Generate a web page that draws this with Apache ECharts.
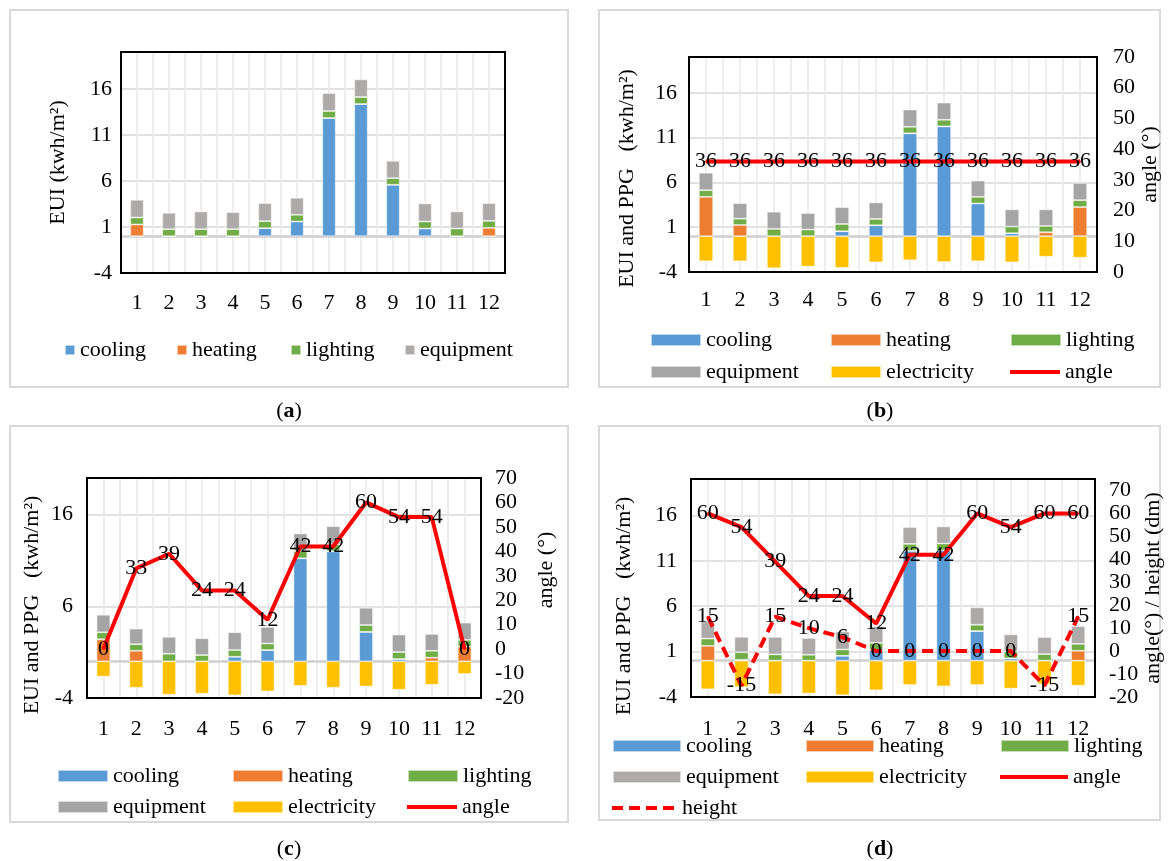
<!DOCTYPE html>
<html><head><meta charset="utf-8">
<script src="https://cdn.jsdelivr.net/npm/echarts@6/dist/echarts.min.js"></script>
<style>html,body{margin:0;padding:0;background:#fff}#c{width:1170px;height:861px}</style>
</head><body><div id="c"></div>
<script>
// ---------------- data ----------------
const months = ['1','2','3','4','5','6','7','8','9','10','11','12'];

// (a)
const coolingA   = [0,0,0,0,0.87,1.59,12.83,14.35,5.58,0.83,0,0];
const heatingA   = [1.27,0,0,0,0,0,0,0,0,0,0,0.9];
const lightingA  = [0.76,0.76,0.76,0.76,0.76,0.73,0.76,0.76,0.72,0.76,0.83,0.76];
const equipmentA = [1.92,1.78,1.92,1.85,1.96,1.85,1.95,1.92,1.88,1.96,1.85,1.92];

// (b)
const coolingB     = [0,0,0,0,0.55,1.22,11.48,12.25,3.65,0.33,0,0];
const heatingB     = [4.39,1.25,0,0,0,0,0,0,0,0,0.44,3.25];
const lightingB    = [0.74,0.7,0.81,0.74,0.81,0.7,0.73,0.74,0.74,0.74,0.7,0.77];
const equipmentB   = [1.95,1.73,1.92,1.84,1.88,1.84,1.92,1.92,1.81,1.92,1.85,1.92];
const electricityB = [-2.8,-2.8,-3.58,-3.39,-3.54,-2.92,-2.69,-2.88,-2.8,-2.92,-2.29,-2.4];
const angleB       = [36,36,36,36,36,36,36,36,36,36,36,36];

// (c)
const coolingC     = [0,0,0,0,0.5,1.23,11.24,12.0,3.21,0.25,0,0];
const heatingC     = [2.41,1.15,0,0,0,0,0,0,0,0,0.4,1.6];
const lightingC    = [0.76,0.72,0.83,0.68,0.73,0.72,0.8,0.76,0.75,0.76,0.75,0.74];
const equipmentC   = [1.91,1.7,1.84,1.84,1.94,1.8,1.91,1.98,1.88,1.91,1.84,1.88];
const electricityC = [-1.66,-2.88,-3.64,-3.53,-3.71,-3.28,-2.67,-2.88,-2.74,-3.1,-2.56,-1.37];
const angleC       = [0,33,39,24,24,12,42,42,60,54,54,0];

// (d)
const coolingD     = [0,0,0,0,0.54,1.2,12.1,12.14,3.26,0.25,0,0];
const heatingD     = [1.63,0.1,0,0,0,0,0,0,0,0,0,1.09];
const lightingD    = [0.8,0.83,0.69,0.65,0.69,0.76,0.76,0.76,0.69,0.75,0.72,0.76];
const equipmentD   = [1.9,1.7,1.92,1.85,1.99,1.84,1.85,1.88,1.92,1.9,1.88,1.95];
const electricityD = [-3.15,-2.9,-3.7,-3.62,-3.8,-3.26,-2.68,-2.83,-2.68,-3.08,-2.6,-2.75];
const angleD       = [60,54,39,24,24,12,42,42,60,54,60,60];
const heightD      = [15,-15,15,10,6,0,0,0,0,0,-15,15];

// ---------------- styling ----------------
const FONT = 'Liberation Serif';
const FS = 22;
const C = {cooling:'#5B9BD5', heating:'#ED7D31', lighting:'#70AD47', electricity:'#FFC000', angle:'#FF0000'};

const panels = [
  {key:'a', grid:{left:121,top:52,width:384,height:221}, yL:{min:-4,max:20,interval:5,name:'EUI (kwh/m²)',gap:52,pad:[0,0,0,0],margin:9},
   yR:null, xMargin:19, eqColor:'#AEAAAA',
   bars:{cooling:coolingA,heating:heatingA,lighting:lightingA,equipment:equipmentA}, lines:[]},
  {key:'b', grid:{left:689,top:57,width:408,height:215}, yL:{min:-4,max:20,interval:5,name:'EUI and PPG   (kwh/m²)',gap:51,pad:[0,28,0,0],margin:12},
   yR:{min:0,max:70,interval:10,name:'angle (°)',gap:36,pad:[0,0,0,0],margin:16}, xMargin:17, eqColor:'#A5A5A5',
   bars:{cooling:coolingB,heating:heatingB,lighting:lightingB,equipment:equipmentB,electricity:electricityB},
   lines:[{name:'angle',data:angleB,dash:false}]},
  {key:'c', grid:{left:87,top:478,width:394,height:220}, yL:{min:-4,max:20,interval:10,name:'EUI and PPG   (kwh/m²)',gap:44,pad:[0,34,0,0],margin:14},
   yR:{min:-20,max:70,interval:10,name:'angle (°)',gap:54,pad:[0,0,0,36],margin:14}, xMargin:20, eqColor:'#A5A5A5',
   bars:{cooling:coolingC,heating:heatingC,lighting:lightingC,equipment:equipmentC,electricity:electricityC},
   lines:[{name:'angle',data:angleC,dash:false}]},
  {key:'d', grid:{left:691,top:479,width:404,height:218}, yL:{min:-4,max:20,interval:5,name:'EUI and PPG   (kwh/m²)',gap:56,pad:[0,36,0,0],margin:14},
   yR:{min:-20,max:75,interval:10,name:'angle(°) / height (dm)',gap:40,pad:[0,0,0,0],margin:14}, xMargin:21, eqColor:'#AEAAAA',
   bars:{cooling:coolingD,heating:heatingD,lighting:lightingD,equipment:equipmentD,electricity:electricityD},
   lines:[{name:'angle',data:angleD,dash:false},{name:'height',data:heightD,dash:true}]}
];

const legendLayout = {
  a:{w:10,h:10,cols:[64,176,290,404],rows:[350],items:[['cooling','heating','lighting','equipment']]},
  b:{w:50,h:12,cols:[650,830,1010],rows:[340,372],items:[['cooling','heating','lighting'],['equipment','electricity','angle']]},
  c:{w:50,h:12,cols:[57,232,407],rows:[776,807],items:[['cooling','heating','lighting'],['equipment','electricity','angle']]},
  d:{w:68,h:12,cols:[612,805,1000],rows:[746,777,808],items:[['cooling','heating','lighting'],['equipment','electricity','angle'],['height']]}
};

const boxes = [
  {x:10,y:10,w:558,h:377,cap:'a',cx:289,cy:411},
  {x:599,y:10,w:561,h:377,cap:'b',cx:880,cy:411},
  {x:10,y:426,w:558,h:396,cap:'c',cx:289,cy:849},
  {x:599,y:426,w:561,h:394,cap:'d',cx:880,cy:849}
];

// ---------------- build ----------------
const grid=[], xAxis=[], yAxis=[], series=[], legend=[], graphic=[];
const txt = {color:'#000', fontSize:FS, fontFamily:FONT};

panels.forEach((p,gi)=>{
  grid.push(Object.assign({show:false, containLabel:false}, p.grid));
  // black plot frame on top
  graphic.push({type:'rect', shape:{x:p.grid.left,y:p.grid.top,width:p.grid.width,height:p.grid.height},
    style:{fill:'none',stroke:'#000',lineWidth:2}, z:100, silent:true});
  const xCat = xAxis.length;
  xAxis.push({type:'category', gridIndex:gi, data:months, position:'bottom', boundaryGap:true,
    axisLine:{show:false,onZero:false}, axisTick:{show:false}, splitLine:{show:false},
    axisLabel:Object.assign({margin:p.xMargin, interval:0}, txt)});
  const yLi = yAxis.length;
  yAxis.push({type:'value', gridIndex:gi, position:'left', min:p.yL.min, max:p.yL.max, interval:p.yL.interval,
    axisLine:{show:false,onZero:false}, axisTick:{show:false},
    splitLine:{show:true,lineStyle:{color:'#d9d9d9',width:1.5}},
    axisLabel:Object.assign({showMaxLabel:false, margin:p.yL.margin}, txt),
    name:p.yL.name, nameLocation:'middle', nameGap:p.yL.gap,
    nameTextStyle:Object.assign({padding:p.yL.pad}, txt)});
  // helper axis: half-category vertical gridlines and zero line
  xAxis.push({type:'value', gridIndex:gi, position:'bottom', min:0, max:24, interval:1,
    axisLabel:{show:false}, axisTick:{show:false},
    splitLine:{show:true,lineStyle:{color:'#e9e9e9',width:1.5}},
    axisLine:{show:true,onZero:true,onZeroAxisIndex:yLi,lineStyle:{color:'#cfcfcf',width:2.5}}});
  let yRi = null;
  if (p.yR){
    yRi = yAxis.length;
    yAxis.push({type:'value', gridIndex:gi, position:'right', min:p.yR.min, max:p.yR.max, interval:p.yR.interval,
      axisLine:{show:false,onZero:false}, axisTick:{show:false}, splitLine:{show:false},
      axisLabel:Object.assign({showMaxLabel: p.yR.max % p.yR.interval === 0, margin:p.yR.margin}, txt),
      name:p.yR.name, nameLocation:'middle', nameGap:p.yR.gap,
      nameTextStyle:Object.assign({padding:p.yR.pad}, txt)});
  }
  const colors = Object.assign({}, C, {equipment:p.eqColor});
  Object.keys(p.bars).forEach(n=>{
    series.push({name:n, type:'bar', xAxisIndex:xCat, yAxisIndex:yLi, stack:'s'+p.key, barWidth:'42%',
      data:p.bars[n], itemStyle:{color:colors[n], borderColor:'rgba(255,255,255,0.6)', borderWidth:0.8}, z:2});
  });
  p.lines.forEach(l=>{
    series.push({name:l.name, type:'line', xAxisIndex:xCat, yAxisIndex:yRi, data:l.data,
      symbol:'circle', symbolSize:2, showSymbol:true,
      lineStyle:{color:C.angle, width:4, type: l.dash ? [11,6] : 'solid'}, itemStyle:{color:C.angle},
      label:Object.assign({show:true, position:'inside'}, txt), z:5});
  });
  // legends
  const L = legendLayout[p.key];
  L.items.forEach((row,ri)=>{
    row.forEach((name,ci)=>{
      let icon='rect', itemStyle={color:colors[name]}, w=L.w, h=L.h;
      if (name==='angle'){ icon='path://M0,0H'+w+'V4H0Z'; h=4; itemStyle={color:C.angle}; }
      if (name==='height'){
        let d=''; for(let x=0;x<w;x+=17){ d+='M'+x+',0H'+Math.min(x+11,w)+'V4H'+x+'Z'; }
        icon='path://'+d; h=4; itemStyle={color:C.angle};
      }
      legend.push({left:L.cols[ci], top:L.rows[ri]-11, padding:0, itemWidth:w, itemHeight:h, itemGap:0,
        selectedMode:false, data:[{name, icon, itemStyle}], textStyle:Object.assign({lineHeight:22}, txt)});
    });
  });
});

boxes.forEach(b=>{
  graphic.push({type:'rect', shape:{x:b.x,y:b.y,width:b.w,height:b.h}, style:{fill:'none',stroke:'#d9d9d9',lineWidth:2}, z:-1, silent:true});
  graphic.push({type:'text', x:b.cx, y:b.cy, style:{text:'({b|'+b.cap+'})', align:'center', verticalAlign:'middle',
    fontSize:FS, fontFamily:FONT, fill:'#000', rich:{b:{fontWeight:'bold', fontSize:FS, fontFamily:FONT, fill:'#000'}}}});
});

const chart = echarts.init(document.getElementById('c'), null, {renderer:'canvas'});
chart.setOption({animation:false, textStyle:{fontFamily:FONT}, grid, xAxis, yAxis, legend, series, graphic});
</script>
</body></html>
